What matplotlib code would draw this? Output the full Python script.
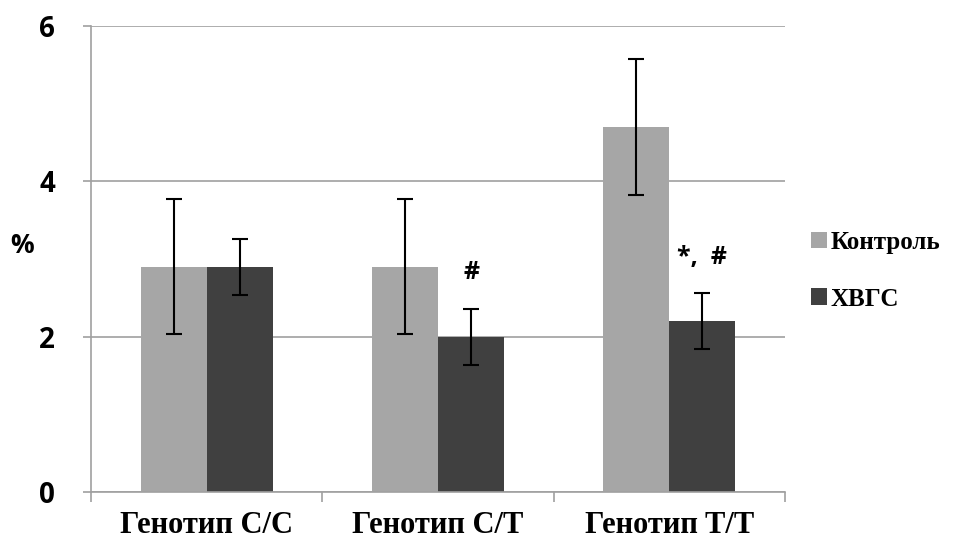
import numpy as np
import matplotlib.pyplot as plt

# дані
genotypes = ['Генотип С/С', 'Генотип С/T', 'Генотип T/T']
control = [2.9, 2.9, 4.7]
control_err = [0.87, 0.87, 0.87]
hcv = [2.9, 2.0, 2.2]
hcv_err = [0.36, 0.36, 0.36]
marks = ['', '#', '*,  #']
series_names = ['Контроль', 'ХВГС']

fig = plt.figure(figsize=(9.64, 5.45), dpi=100)
ax = fig.add_axes([91/964, 1 - 492/545, (785-91)/964, (492-26)/545])

x = np.arange(len(genotypes))
w = 0.286
err_kw = dict(ecolor='black', elinewidth=1.5, capsize=6, capthick=1.5)
ax.bar(x - w/2, control, w, yerr=control_err, color='#A6A6A6', label=series_names[0],
       error_kw=err_kw, zorder=2)
ax.bar(x + w/2, hcv, w, yerr=hcv_err, color='#404040', label=series_names[1],
       error_kw=err_kw, zorder=2)

for xi, v, e, m in zip(x, hcv, hcv_err, marks):
    if m:
        ax.text(xi + w/2, v + e + 0.3, m, ha='center', va='bottom',
                fontsize=18, fontweight='bold', family='Open Sans')

ax.set_xlim(-0.5, 2.5)
ax.set_ylim(0, 6)
ax.set_yticks([0, 2, 4, 6])
ax.yaxis.grid(True, color='#A0A0A0', linewidth=1.2, zorder=0)
ax.set_axisbelow(True)
for s in ['top', 'right']:
    ax.spines[s].set_visible(False)
for s in ['left', 'bottom']:
    ax.spines[s].set_color('#A0A0A0')
    ax.spines[s].set_linewidth(1.2)

ax.set_xticks([-0.5, 0.5, 1.5, 2.5])
ax.set_xticklabels([])
ax.set_xticks(x, minor=True)
ax.set_xticklabels(genotypes, minor=True, fontsize=22, fontweight='bold', family='Liberation Serif')
ax.tick_params(axis='x', which='major', length=7, color='#A0A0A0', width=1.2)
ax.tick_params(axis='x', which='minor', length=0, pad=14)
ax.tick_params(axis='y', length=6, color='#A0A0A0', width=1.2, pad=20)
for t in ax.get_yticklabels():
    t.set_fontsize(20)
    t.set_fontweight('bold')
    t.set_family('Open Sans')

ax.set_ylabel('%', rotation=0, fontsize=19, fontweight='bold', family='Open Sans')
ax.yaxis.set_label_coords(-0.1, 0.5)

ax.legend(loc='center left', bbox_to_anchor=(1.005, 0.475), frameon=False,
          prop=dict(family='Liberation Serif', weight='bold', size=18),
          handlelength=0.65, handleheight=0.65, handletextpad=0.15, labelspacing=1.35)

fig.savefig('out.png', dpi=100)
